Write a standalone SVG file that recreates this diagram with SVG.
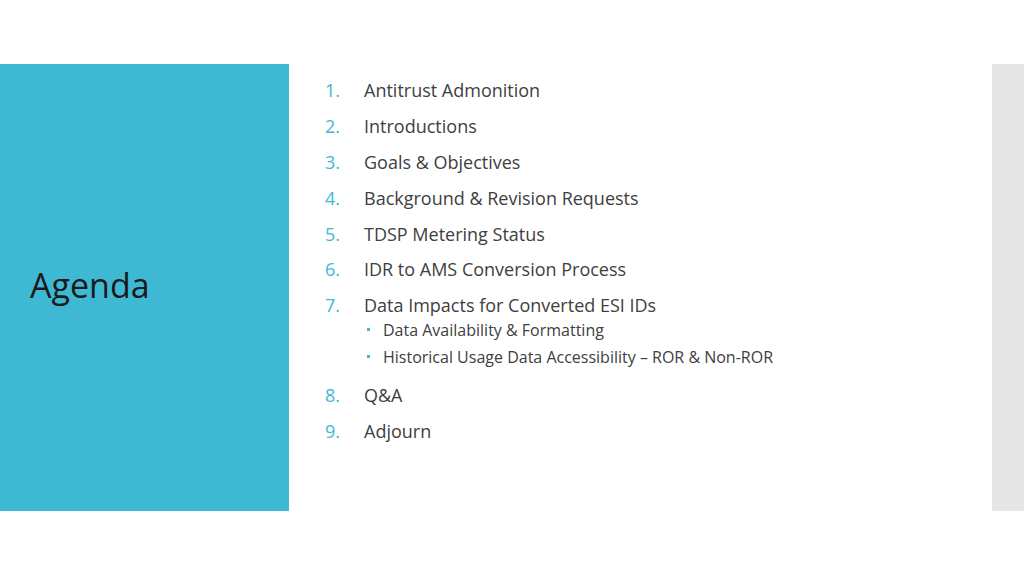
<svg xmlns="http://www.w3.org/2000/svg" width="1024" height="576" viewBox="0 0 1024 576">
<style>
.n{font-family:"Open Sans","Liberation Sans",sans-serif;font-size:18px;fill:#3FB8D2}
.t{font-family:"Open Sans","Liberation Sans",sans-serif;font-size:18px;fill:#404040}
.s{font-family:"Open Sans","Liberation Sans",sans-serif;font-size:16px;fill:#404040}
.b{fill:#3FB8D2}
</style>
<rect width="1024" height="576" fill="#ffffff"/>
<rect x="0" y="64" width="289" height="447" fill="#3FB9D3"/>
<rect x="992" y="64" width="32" height="447" fill="#E6E6E6"/>
<text x="30" y="298" font-family="Open Sans,Liberation Sans,sans-serif" font-size="34" fill="#1a1a1a">Agenda</text>
<g>
<text class="n" x="325" y="97">1.</text><text class="t" x="364" y="97">Antitrust Admonition</text>
<text class="n" x="325" y="133">2.</text><text class="t" x="364" y="133">Introductions</text>
<text class="n" x="325" y="169">3.</text><text class="t" x="364" y="169">Goals &amp; Objectives</text>
<text class="n" x="325" y="205">4.</text><text class="t" x="364" y="205">Background &amp; Revision Requests</text>
<text class="n" x="325" y="241">5.</text><text class="t" x="364" y="241">TDSP Metering Status</text>
<text class="n" x="325" y="276">6.</text><text class="t" x="364" y="276">IDR to AMS Conversion Process</text>
<text class="n" x="325" y="312">7.</text><text class="t" x="364" y="312">Data Impacts for Converted ESI IDs</text>
<rect class="b" x="367" y="328" width="3" height="3"/><text class="s" x="383" y="336">Data Availability &amp; Formatting</text>
<rect class="b" x="367" y="355" width="3" height="3"/><text class="s" x="383" y="363">Historical Usage Data Accessibility – ROR &amp; Non-ROR</text>
<text class="n" x="325" y="402">8.</text><text class="t" x="364" y="402">Q&amp;A</text>
<text class="n" x="325" y="438">9.</text><text class="t" x="364" y="438">Adjourn</text>
</g>
</svg>
